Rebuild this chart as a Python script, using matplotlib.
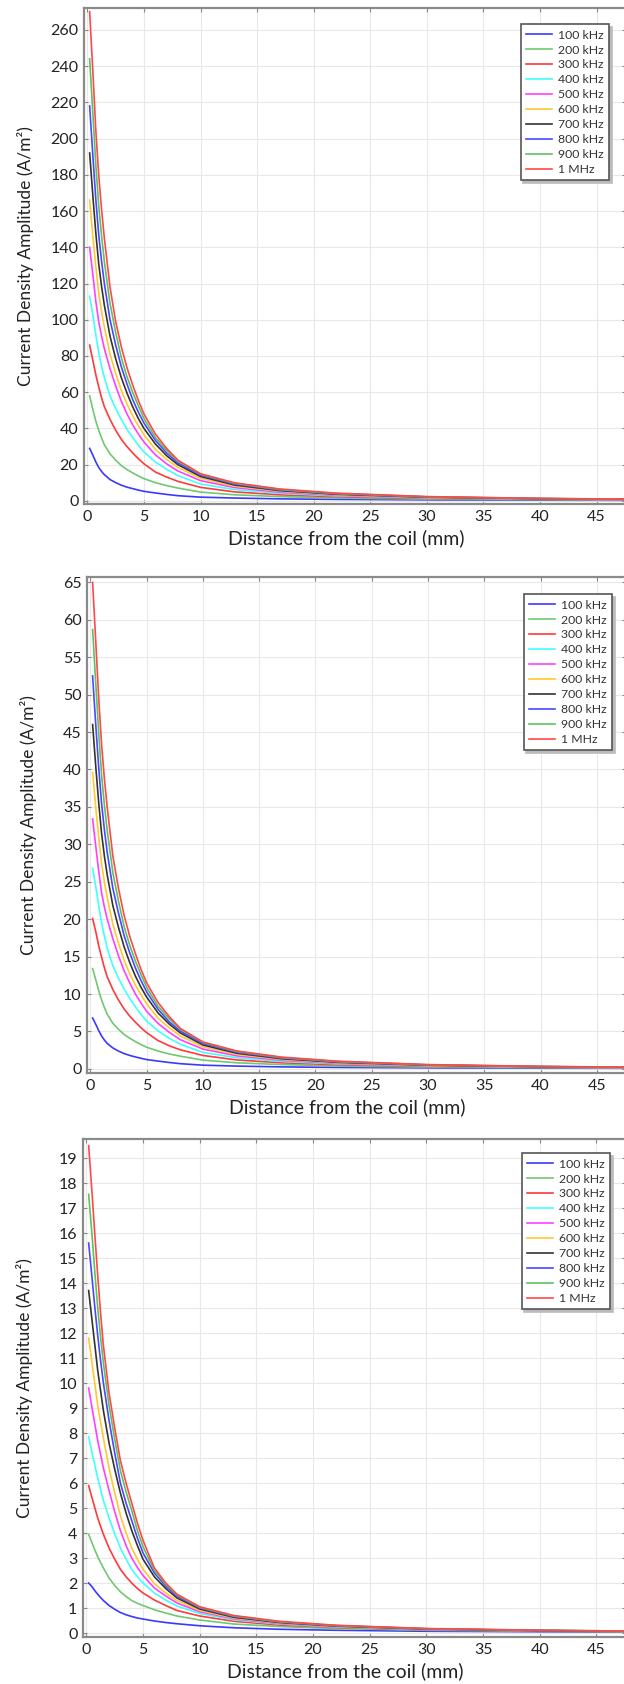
import matplotlib
matplotlib.use("Agg")
import matplotlib.pyplot as plt

plt.rcParams['font.family'] = ['Lato', 'DejaVu Sans']

# distance from the coil (mm), shared sample points
distance = [0.2, 0.5, 0.75, 1, 1.25, 1.5, 2, 2.5, 3, 3.5, 4, 4.5, 5, 6, 7, 8,
            10, 13, 17, 22, 30, 40, 47.5]

labels = ['100 kHz', '200 kHz', '300 kHz', '400 kHz', '500 kHz',
          '600 kHz', '700 kHz', '800 kHz', '900 kHz', '1 MHz']
colors = ['#3a3aff', '#70c870', '#ff3a3a', '#40ffff', '#ff40ff',
          '#ffc830', '#333333', '#4848ff', '#60c060', '#ff4848']

# panel 1 (A/m2)
p1_100k = [29, 25, 21.5, 18.5, 16.3, 14.5, 11.8, 10.1, 8.7, 7.6, 6.8, 6.0, 5.3, 4.4, 3.6, 2.9, 2.1, 1.6, 1.15, 0.85, 0.6, 0.42, 0.33]
p1_200k = [58, 50, 44, 39, 34.8, 31, 26, 22.5, 19.5, 17.3, 15.5, 13.8, 12.3, 10.1, 8.5, 7.1, 4.9, 3.4, 2.4, 1.6, 1.0, 0.65, 0.5]
p1_300k = [86, 77, 69.5, 63, 57, 52, 45, 39, 34, 30, 26.5, 23.3, 20.5, 16, 13.2, 10.8, 7.5, 5.0, 3.4, 2.3, 1.4, 0.9, 0.65]
p1_400k = [113, 102, 91.5, 82, 74.5, 68, 58, 51, 45, 39.5, 35, 30.8, 27, 21.5, 17.5, 14, 9.3, 6.3, 4.2, 2.8, 1.65, 1.0, 0.75]
p1_500k = [140, 124, 110, 99, 91, 84, 73, 63.5, 55, 48, 42, 37, 32.5, 25.5, 20.5, 16.5, 11.2, 7.4, 4.8, 3.1, 1.8, 1.1, 0.8]
p1_600k = [166, 145, 129, 115, 104.5, 96, 81, 70.5, 61, 53.5, 47, 41.5, 36.5, 28.5, 23, 18.5, 12.5, 8.2, 5.3, 3.4, 1.95, 1.15, 0.85]
p1_700k = [192, 167, 147.5, 131, 118.5, 108, 91, 78.5, 68, 59.5, 52, 45.5, 40, 31.5, 25, 20, 13.5, 8.8, 5.7, 3.7, 2.1, 1.25, 0.9]
p1_800k = [218, 189, 166, 147, 132.5, 120, 100, 86, 74, 64.5, 56, 49, 43, 33.5, 26.5, 21, 14.2, 9.3, 6.0, 3.9, 2.2, 1.3, 0.95]
p1_900k = [244, 212, 185, 163, 146.5, 132, 109, 93, 79, 68.5, 60, 52.5, 45.5, 35, 28, 22, 14.8, 9.7, 6.3, 4.1, 2.3, 1.35, 1.0]
p1_1m = [270, 235, 204, 180, 161, 145, 118, 99, 85, 73.5, 64, 55.5, 48, 37, 29, 22.5, 15, 10, 6.6, 4.3, 2.4, 1.4, 1.0]

# panel 2 (A/m2)
p2_100k = [6.8, 5.9, 5.1, 4.4, 3.85, 3.4, 2.8, 2.38, 2.05, 1.8, 1.6, 1.42, 1.25, 1.05, 0.86, 0.7, 0.5, 0.38, 0.27, 0.2, 0.14, 0.1, 0.08]
p2_200k = [13.4, 11.8, 10.4, 9.2, 8.2, 7.3, 6.1, 5.3, 4.6, 4.1, 3.65, 3.25, 2.9, 2.4, 2.0, 1.7, 1.18, 0.82, 0.58, 0.38, 0.24, 0.16, 0.12]
p2_300k = [20.1, 18.2, 16.4, 14.9, 13.5, 12.3, 10.6, 9.2, 8.0, 7.05, 6.25, 5.5, 4.85, 3.8, 3.1, 2.55, 1.8, 1.2, 0.82, 0.55, 0.34, 0.22, 0.16]
p2_400k = [26.8, 24.2, 21.7, 19.5, 17.7, 16.1, 13.8, 12.1, 10.7, 9.4, 8.3, 7.3, 6.4, 5.1, 4.1, 3.3, 2.2, 1.5, 1.0, 0.67, 0.4, 0.24, 0.18]
p2_500k = [33.4, 29.5, 26.3, 23.5, 21.6, 20.0, 17.4, 15.1, 13.1, 11.5, 10.0, 8.8, 7.7, 6.1, 4.9, 3.9, 2.65, 1.75, 1.15, 0.74, 0.43, 0.26, 0.19]
p2_600k = [39.6, 34.6, 30.8, 27.4, 24.9, 22.9, 19.3, 16.8, 14.5, 12.7, 11.2, 9.9, 8.7, 6.8, 5.5, 4.4, 2.95, 1.95, 1.26, 0.81, 0.46, 0.27, 0.2]
p2_700k = [46, 40, 35.4, 31.4, 28.4, 25.9, 21.8, 18.9, 16.3, 14.2, 12.4, 10.9, 9.6, 7.5, 6.0, 4.8, 3.2, 2.1, 1.36, 0.88, 0.5, 0.3, 0.22]
p2_800k = [52.5, 45.5, 40.1, 35.4, 31.9, 28.9, 24.1, 20.8, 17.8, 15.5, 13.5, 11.8, 10.3, 8.0, 6.3, 5.05, 3.4, 2.22, 1.44, 0.93, 0.53, 0.31, 0.23]
p2_900k = [58.7, 51, 44.7, 39.2, 35.2, 31.8, 26.2, 22.4, 19.0, 16.5, 14.4, 12.6, 10.9, 8.4, 6.7, 5.3, 3.55, 2.33, 1.51, 0.98, 0.55, 0.32, 0.24]
p2_1m = [65, 56.5, 49.3, 43.3, 38.7, 34.9, 28.4, 24.1, 20.5, 17.7, 15.4, 13.3, 11.5, 8.9, 7.0, 5.4, 3.6, 2.4, 1.58, 1.03, 0.58, 0.34, 0.24]

# panel 3 (A/m2)
p3_100k = [2.0, 1.85, 1.69, 1.55, 1.42, 1.3, 1.1, 0.95, 0.82, 0.73, 0.66, 0.6, 0.56, 0.48, 0.42, 0.37, 0.29, 0.21, 0.15, 0.11, 0.07, 0.05, 0.04]
p3_200k = [3.95, 3.6, 3.32, 3.05, 2.82, 2.6, 2.2, 1.9, 1.65, 1.46, 1.3, 1.19, 1.1, 0.93, 0.8, 0.68, 0.52, 0.36, 0.26, 0.18, 0.11, 0.07, 0.05]
p3_300k = [5.9, 5.4, 5.0, 4.6, 4.27, 3.95, 3.4, 2.95, 2.55, 2.25, 2.0, 1.78, 1.6, 1.32, 1.1, 0.9, 0.68, 0.47, 0.32, 0.22, 0.13, 0.08, 0.06]
p3_400k = [7.85, 7.2, 6.7, 6.2, 5.75, 5.3, 4.6, 3.97, 3.4, 2.95, 2.55, 2.25, 2.0, 1.6, 1.32, 1.08, 0.78, 0.53, 0.36, 0.24, 0.14, 0.09, 0.065]
p3_500k = [9.8, 9.0, 8.35, 7.7, 7.15, 6.6, 5.7, 4.85, 4.1, 3.5, 3.0, 2.62, 2.3, 1.8, 1.48, 1.2, 0.85, 0.57, 0.38, 0.26, 0.15, 0.09, 0.07]
p3_600k = [11.8, 10.8, 9.95, 9.1, 8.45, 7.8, 6.6, 5.6, 4.7, 4.0, 3.4, 2.95, 2.55, 1.98, 1.6, 1.3, 0.9, 0.6, 0.4, 0.27, 0.16, 0.1, 0.07]
p3_700k = [13.7, 12.5, 11.5, 10.5, 9.7, 8.9, 7.6, 6.55, 5.6, 4.8, 4.1, 3.5, 2.95, 2.25, 1.78, 1.4, 0.96, 0.63, 0.42, 0.28, 0.16, 0.1, 0.075]
p3_800k = [15.6, 14.2, 13.0, 11.9, 10.9, 10.0, 8.5, 7.2, 6.0, 5.2, 4.5, 3.8, 3.2, 2.4, 1.88, 1.47, 1.0, 0.66, 0.44, 0.29, 0.17, 0.1, 0.075]
p3_900k = [17.55, 15.9, 14.4, 13.0, 11.85, 10.8, 9.1, 7.75, 6.5, 5.65, 4.9, 4.1, 3.45, 2.5, 1.95, 1.52, 1.03, 0.68, 0.45, 0.3, 0.17, 0.11, 0.08]
p3_1m = [19.5, 17.6, 15.9, 14.3, 12.8, 11.5, 9.6, 8.2, 6.9, 6.0, 5.2, 4.4, 3.7, 2.6, 2.0, 1.55, 1.05, 0.7, 0.47, 0.31, 0.18, 0.11, 0.08]

panel1 = [p1_100k, p1_200k, p1_300k, p1_400k, p1_500k, p1_600k, p1_700k, p1_800k, p1_900k, p1_1m]
panel2 = [p2_100k, p2_200k, p2_300k, p2_400k, p2_500k, p2_600k, p2_700k, p2_800k, p2_900k, p2_1m]
panel3 = [p3_100k, p3_200k, p3_300k, p3_400k, p3_500k, p3_600k, p3_700k, p3_800k, p3_900k, p3_1m]

x_ticks = list(range(0, 50, 5))
y_ticks1 = list(range(0, 261, 20))
y_ticks2 = list(range(0, 66, 5))
y_ticks3 = list(range(0, 20, 1))

fig = plt.figure(figsize=(6.24, 16.84), dpi=100)

# axes rects in figure fractions (left, bottom, width, height)
rects = [
    [0.1346, 0.7007, 0.8686, 0.2945],
    [0.1394, 0.3628, 0.8640, 0.2945],
    [0.1330, 0.0279, 0.8700, 0.2957],
]
ylims = [(-1.7, 272), (-0.55, 65.7), (-0.16, 19.76)]
yticks = [y_ticks1, y_ticks2, y_ticks3]
panels = [panel1, panel2, panel3]
legend_anchor = [(0.980, 0.980), (0.985, 0.978), (0.982, 0.984)]

text_color = '#222222'

for rect, data, ylim, yt, anchor in zip(rects, panels, ylims, yticks, legend_anchor):
    ax = fig.add_axes(rect)
    for series, lab, col in zip(data, labels, colors):
        ax.plot(distance, series, color=col, lw=1.2, label=lab)

    ax.set_xlim(-0.3, 47.6)
    ax.set_ylim(*ylim)
    ax.set_xticks(x_ticks)
    ax.set_yticks(yt)
    ax.grid(True, color='#e8e8e8', lw=0.8)
    ax.set_axisbelow(True)
    for s in ax.spines.values():
        s.set_color('#8a8a8a')
        s.set_linewidth(1.6)
    ax.tick_params(direction='in', length=3, width=0.8, color='#888888',
                   top=True, right=True, labelsize=11.5, labelcolor=text_color, pad=4)

    ax.set_xlabel('Distance from the coil (mm)', fontsize=14, color=text_color)
    ax.set_ylabel('Current Density Amplitude (A/m²)', fontsize=12.5, color=text_color)
    ax.yaxis.set_label_coords(-0.092, 0.5)
    ax.xaxis.set_label_coords(0.483, -0.05)

    leg = ax.legend(loc='upper right', bbox_to_anchor=anchor, fontsize=8.8,
                    handlelength=2.1, handletextpad=0.5, labelspacing=0.32,
                    borderpad=0.45, fancybox=False, framealpha=1,
                    shadow={'ox': 2, 'oy': -2, 'color': '#bbbbbb', 'alpha': 1})
    leg.get_frame().set_edgecolor('#555555')
    leg.get_frame().set_linewidth(1.2)
    for t in leg.get_texts():
        t.set_color('#333333')

fig.savefig('out.png', dpi=100)
